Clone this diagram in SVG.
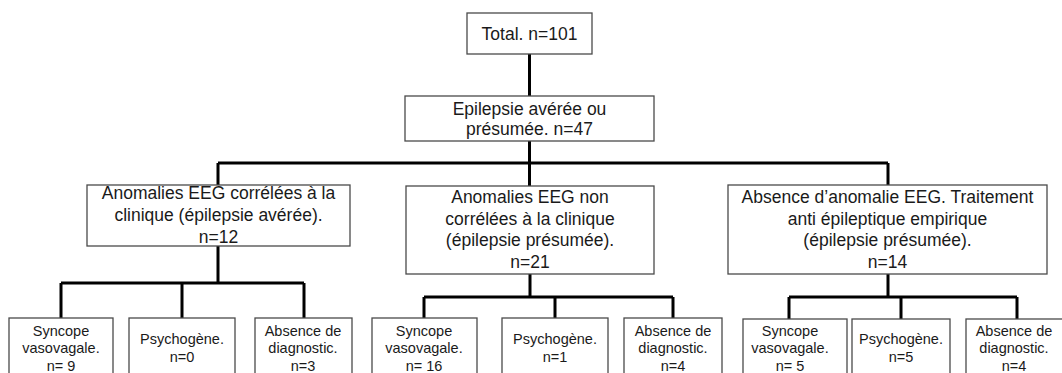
<svg xmlns="http://www.w3.org/2000/svg" width="1062" height="373" viewBox="0 0 1062 373">
<style>
.box{fill:#fff;stroke:#4a4a4a;stroke-width:1.3}
.lnk{fill:none;stroke:#000;stroke-width:3}
.t{font-family:"Liberation Sans",Arial,sans-serif;fill:#1a1a1a;text-anchor:middle}
.big{font-size:17.5px}
.sm{font-size:14.5px}
</style>
<rect width="1062" height="373" fill="#fff"/>
<g id="connectors">
<path class="lnk" d="M529.5 54V96M529.5 141V186M218 163H888M218 163V185M888 163V185"/>
<path class="lnk" d="M218 246V283M61 283H304M61 283V318M182 283V318M304 283V318"/>
<path class="lnk" d="M530 274V297M424 297H673M424 297V318M555 297V318M673 297V318"/>
<path class="lnk" d="M888 274V297M789 297H1017M789 297V319M901 297V319M1017 297V319"/>
</g>
<g id="n-total"><rect class="box" x="467" y="13" width="125" height="41"/><text class="t big" x="529.5" y="40">Total. n=101</text></g>
<g id="n-epilepsie"><rect class="box" x="405" y="96" width="249" height="45"/><text class="t big" x="529.5" y="115">Epilepsie avérée ou</text><text class="t big" x="529.5" y="135">présumée. n=47</text></g>
<g id="n-correlees"><rect class="box" x="87" y="185" width="263" height="61"/><text class="t big" x="218.5" y="199">Anomalies EEG corrélées à la</text><text class="t big" x="218.5" y="221">clinique (épilepsie avérée).</text><text class="t big" x="218.5" y="243">n=12</text></g>
<g id="n-noncorrelees"><rect class="box" x="406" y="186" width="248" height="88"/><text class="t big" x="530" y="203">Anomalies EEG non</text><text class="t big" x="530" y="224.5">corrélées à la clinique</text><text class="t big" x="530" y="246">(épilepsie présumée).</text><text class="t big" x="530" y="268">n=21</text></g>
<g id="n-absence"><rect class="box" x="728" y="185" width="319" height="89"/><text class="t big" x="887.5" y="203">Absence d’anomalie EEG. Traitement</text><text class="t big" x="887.5" y="224.5">anti épileptique empirique</text><text class="t big" x="887.5" y="246">(épilepsie présumée).</text><text class="t big" x="887.5" y="268">n=14</text></g>
<g id="n-l-syncope"><rect class="box" x="9" y="318" width="104" height="60"/><text class="t sm" x="61" y="336">Syncope</text><text class="t sm" x="61" y="353">vasovagale.</text><text class="t sm" x="61" y="371">n= 9</text></g>
<g id="n-l-psy"><rect class="box" x="129" y="318" width="106" height="60"/><text class="t sm" x="182" y="344">Psychogène.</text><text class="t sm" x="182" y="362">n=0</text></g>
<g id="n-l-abs"><rect class="box" x="255" y="318" width="97" height="60"/><text class="t sm" x="303" y="336">Absence de</text><text class="t sm" x="303" y="353">diagnostic.</text><text class="t sm" x="303" y="371">n=3</text></g>
<g id="n-m-syncope"><rect class="box" x="372" y="318" width="105" height="60"/><text class="t sm" x="424" y="336">Syncope</text><text class="t sm" x="424" y="353">vasovagale.</text><text class="t sm" x="424" y="371">n= 16</text></g>
<g id="n-m-psy"><rect class="box" x="502" y="318" width="106" height="60"/><text class="t sm" x="555" y="344">Psychogène.</text><text class="t sm" x="555" y="362">n=1</text></g>
<g id="n-m-abs"><rect class="box" x="624" y="318" width="98" height="60"/><text class="t sm" x="673" y="336">Absence de</text><text class="t sm" x="673" y="353">diagnostic.</text><text class="t sm" x="673" y="371">n=4</text></g>
<g id="n-r-syncope"><rect class="box" x="743" y="319" width="104" height="60"/><text class="t sm" x="790" y="336">Syncope</text><text class="t sm" x="790" y="353">vasovagale.</text><text class="t sm" x="790" y="371">n= 5</text></g>
<g id="n-r-psy"><rect class="box" x="852" y="319" width="98" height="60"/><text class="t sm" x="901" y="344">Psychogène.</text><text class="t sm" x="901" y="362">n=5</text></g>
<g id="n-r-abs"><rect class="box" x="966" y="319" width="102" height="60"/><text class="t sm" x="1014" y="336">Absence de</text><text class="t sm" x="1014" y="353">diagnostic.</text><text class="t sm" x="1014" y="371">n=4</text></g>
</svg>
